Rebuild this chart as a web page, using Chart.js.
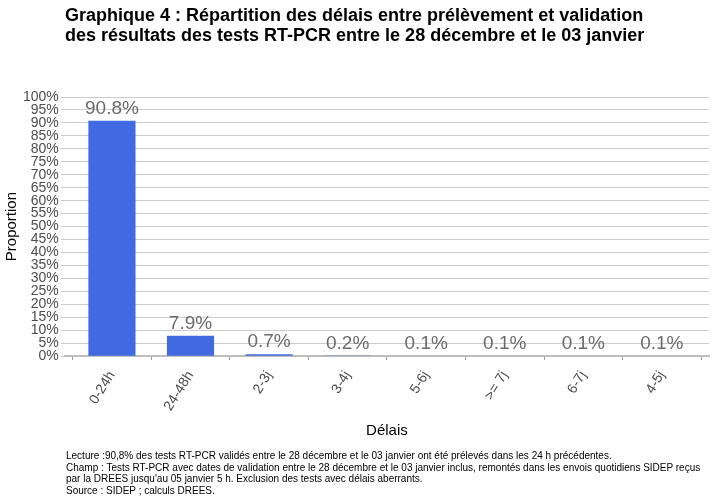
<!DOCTYPE html>
<html>
<head>
<meta charset="utf-8">
<script src="https://cdn.jsdelivr.net/npm/chart.js@4/dist/chart.umd.min.js"></script>
<style>
  html, body { margin: 0; padding: 0; background: #fff; }
  #wrap { position: relative; width: 715px; height: 500px; overflow: hidden; }
  #c { position: absolute; left: 0; top: 0; }
  .title { position: absolute; left: 65px; top: 5px; font-family: "Liberation Sans", Arial, sans-serif; font-weight: bold; font-size: 18px; line-height: 20px; color: #000; white-space: nowrap; }
  .foot { position: absolute; left: 66px; top: 450px; font-family: "Liberation Sans", Arial, sans-serif; font-size: 10px; line-height: 11.5px; color: #000; white-space: nowrap; }
</style>
</head>
<body>
<div id="wrap">
  <canvas id="c" width="715" height="500"></canvas>
  <div class="title">Graphique 4 : Répartition des délais entre prélèvement et validation<br>des résultats des tests RT-PCR entre le 28 décembre et le 03 janvier</div>
  <div class="foot">Lecture :90,8% des tests RT-PCR validés entre le 28 décembre et le 03 janvier ont été prélevés dans les 24 h précédentes.<br>Champ : Tests RT-PCR avec dates de validation entre le 28 décembre et le 03 janvier inclus, remontés dans les envois quotidiens SIDEP reçus<br>par la DREES jusqu'au 05 janvier 5 h. Exclusion des tests avec délais aberrants.<br>Source : SIDEP ; calculs DREES.</div>
</div>
<script>
const categories = ["0-24h", "24-48h", "2-3j", "3-4j", "5-6j", ">= 7j", "6-7j", "4-5j"];
const proportions = [90.8, 7.9, 0.7, 0.2, 0.1, 0.1, 0.1, 0.1];
const yTicks = [0,5,10,15,20,25,30,35,40,45,50,55,60,65,70,75,80,85,90,95,100];

const FONT = '"Liberation Sans", Arial, sans-serif';

const valueLabels = {
  id: 'valueLabels',
  afterDatasetsDraw(chart) {
    const ctx = chart.ctx;
    const meta = chart.getDatasetMeta(0);
    ctx.save();
    ctx.font = '19px ' + FONT;
    ctx.fillStyle = '#6b6b6b';
    ctx.textAlign = 'center';
    ctx.textBaseline = 'alphabetic';
    meta.data.forEach((bar, i) => {
      ctx.fillText(proportions[i].toFixed(1) + '%', bar.x, bar.y - 7);
    });
    ctx.restore();
  }
};

new Chart(document.getElementById('c'), {
  type: 'bar',
  data: {
    datasets: [{
      data: proportions.map((v, i) => ({ x: i, y: v })),
      backgroundColor: '#4169E1',
      barPercentage: 0.6,
      categoryPercentage: 1.0
    }]
  },
  options: {
    responsive: false,
    animation: false,
    layout: { padding: { top: 97, bottom: 60, left: 0, right: 6 } },
    plugins: { legend: { display: false }, tooltip: { enabled: false }, title: { display: false } },
    scales: {
      x: {
        type: 'linear',
        min: -0.6,
        max: 7.6,
        offset: false,
        afterBuildTicks(axis) { axis.ticks = categories.map((c, i) => ({ value: i })); },
        grid: { drawOnChartArea: false, drawTicks: true, tickLength: 4, color: '#999' },
        border: { display: true, color: '#bdbdbd', width: 2 },
        ticks: {
          autoSkip: false,
          minRotation: 58,
          maxRotation: 58,
          padding: 8,
          color: '#4d4d4d',
          font: { family: FONT, size: 14 },
          callback: (v) => categories[v]
        },
        title: { display: true, text: 'Délais', color: '#000', font: { family: FONT, size: 15 }, padding: { top: 0, bottom: 0 } }
      },
      y: {
        min: 0,
        max: 100,
        afterBuildTicks(axis) { axis.ticks = yTicks.map(v => ({ value: v })); },
        grid: { color: '#cccccc', lineWidth: 1, drawTicks: true, tickLength: 4 },
        border: { display: false },
        ticks: {
          autoSkip: false,
          padding: 2,
          color: '#4d4d4d',
          font: { family: FONT, size: 14, lineHeight: 1 },
          callback: (v) => v + '%'
        },
        title: { display: true, text: 'Proportion', color: '#000', font: { family: FONT, size: 15 }, padding: { top: 3, bottom: 0 } }
      }
    }
  },
  plugins: [valueLabels]
});
</script>
</body>
</html>
